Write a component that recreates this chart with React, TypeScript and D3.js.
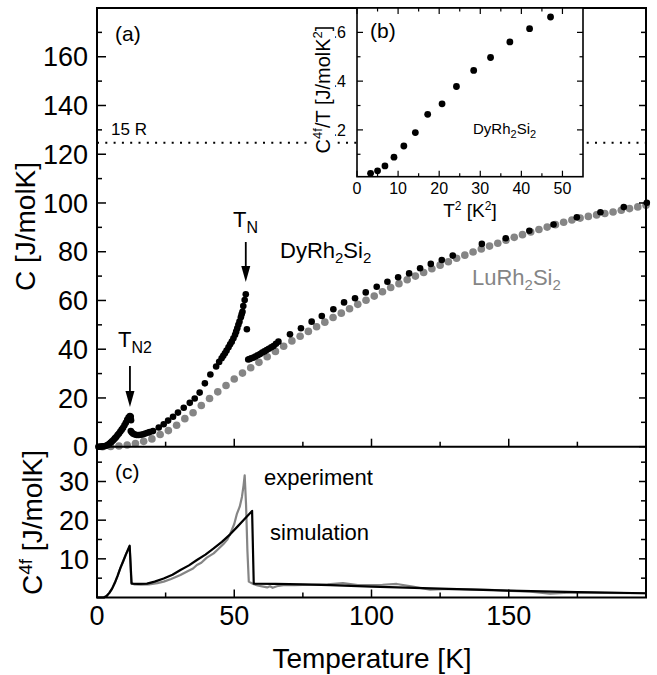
import React from "react";
import * as d3 from "d3";

// ---- Data ----
const dyT = [0.5,1.0,1.5,2.0,2.5,3.0,3.5,4.0,4.5,5.0,5.5,6.0,6.5,7.0,7.5,8.0,8.5,9.0,9.5,10.0,10.5,11.0,11.5,12.0,12.3,12.4,
  12.3,12.7,13.2,13.8,14.5,15.2,16.0,16.8,17.6,18.4,19.2,20.4,22.5,24.3,25.9,27.7,29.5,31.6,33.8,35.6,37.4,39.3,41.3,43.4,
  44.5,45.4,46.0,46.6,47.2,47.9,48.5,49.1,49.7,50.3,50.7,51.1,51.5,51.9,52.4,52.7,53.0,53.3,53.8,54.2,54.6,
  55.1,55.6,56.2,57.0,57.7,58.5,59.4,60.2,61.0,61.8,62.6,63.5,64.3,65.2,66.1,
  70.3,74.3,78.2,81.9,86.1,90.0,94.0,97.9,101.9,105.8,109.7,113.7,117.7,121.6,125.6,129.6,140.2,148.9,157.5,166.3,174.8,183.4,191.9,200.3];
const dyC = [0,0,0.1,0.1,0.2,0.3,0.5,0.8,1.2,1.7,2.2,2.7,3.4,4.0,4.8,5.4,6.2,7.0,7.8,8.8,9.8,11.0,12.0,12.6,12.3,10.9,
  6.4,5.8,5.3,5.0,4.8,4.8,4.9,5.1,5.4,5.7,6.0,6.4,7.9,9.2,10.7,12.3,14.0,16.0,18.0,19.8,22.2,26.0,29.6,32.9,
  34.8,36.3,37.3,38.3,39.5,40.8,42.0,43.1,44.5,45.9,47.2,48.6,50.0,51.3,53.1,54.3,55.4,57.7,60.2,62.5,48.2,
  35.8,36.0,36.3,36.6,37.0,37.5,38.0,38.6,39.1,39.7,40.2,40.8,41.3,42.2,43.1,
  46.1,48.6,51.3,53.6,56.4,59.2,60.9,63.3,65.6,67.7,69.5,71.1,73.2,75.0,76.6,78.4,83.2,85.5,88.6,91.2,94.1,96.2,98.3,100.1];

const luT = [2,5,8,11,14,17,20,23,26,29,32,35,38,41,44,47,50,53,56,59,62,65,68,71,74,77,80,83,86,89,92,95,98,101,104,107,110,113,116,119,122,125,128,131,134,137,140,143,146,149,152,155,158,161,164,167,170,173,176,179,182,185,188,191,194,197,200];
const luC = [0.0,0.1,0.3,0.7,1.3,2.2,3.2,5.0,6.6,8.8,11.5,13.9,16.9,19.8,22.5,25.1,27.8,30.2,32.4,34.6,36.9,39.1,41.2,43.4,45.3,47.3,49.2,51.1,53.0,54.8,56.6,58.4,60.1,61.8,63.6,65.3,66.9,68.5,70.0,71.5,73.0,74.5,75.9,77.3,78.6,79.9,81.1,82.3,83.5,84.7,85.9,87.0,88.1,89.1,90.1,91.1,92.1,93.0,93.8,94.5,95.1,95.7,96.3,97.0,97.7,98.4,99.1];

const insetT2 = [3.3,5.0,6.8,9.0,11.4,14.2,17.2,20.7,24.2,28.4,32.5,37.2,42.0,47.1];
const insetCT = [0.022,0.032,0.052,0.088,0.134,0.189,0.264,0.307,0.378,0.444,0.497,0.561,0.615,0.663];

const simT = [0,2.5,3.5,4.5,5.5,6.5,7.5,8.5,9.5,10.5,11.9,12.6,15,18.2,21,24.3,27.5,30.4,33.5,36.4,39.5,42.5,45.5,48.6,51,53.5,56.5,57.1,65,75,85,100,125,150,175,200];
const simC = [0,0,0.4,1.2,2.3,3.8,5.6,7.6,9.3,11.1,13.4,3.6,3.5,3.6,4.1,4.9,5.9,7.1,8.3,9.7,11.1,12.7,14.4,16.4,18.2,20.1,22.4,3.6,3.5,3.4,3.2,2.8,2.3,1.8,1.4,1.1];

const expT = [0,2.5,3.5,4.5,5.5,6.5,7.5,8.5,9.5,10.5,11.9,12.5,13.5,16,19,22,24.3,27,30.4,33,35,36.4,38,40,42.5,44,46,47.4,48.6,50,51,52,52.8,53.4,53.8,54.3,54.8,55.3,56.9,58.5,60.6,62,63,64,65.5,67.9,72,78,84,89.6,95,99.5,104,109.2,115,121.4,128,136,143,150.5,158,165,170,174.8,185,200];
const expC = [0,0,0.4,1.2,2.3,3.8,5.6,7.6,9.3,11.1,13.2,3.8,3.4,3.3,3.4,3.7,4.1,4.8,5.8,6.8,7.5,8.4,9.0,10.3,11.4,12.4,13.8,14.9,16.6,19,21.7,23.5,26,29,31.6,24,12,4.1,3.5,3.1,2.8,2.6,2.9,2.5,2.9,3.2,3.2,3.3,3.4,3.7,3.2,3.2,3.3,3.5,2.8,2.0,2.2,2.1,2.0,1.7,1.5,1.0,1.2,1.3,1.2,1.1];

const xTicksMajor = [0, 50, 100, 150];
const xTicksMinor = [25, 75, 125, 175];
const yaTicksMajor = [0, 20, 40, 60, 80, 100, 120, 140, 160];
const yaTicksMinor = [10, 30, 50, 70, 90, 110, 130, 150, 170];
const ycTicksMajor = [10, 20, 30];
const ycTicksMinor = [5, 15, 25, 35];
const inXMajor = [0, 10, 20, 30, 40, 50];
const inXMinor = [5, 15, 25, 35, 45];
const inYMajor = [0.2, 0.4, 0.6];
const inYMinor = [0.1, 0.3, 0.5];
const fifteenR = 124.7;

const FONT = "'Liberation Sans', Arial, Helvetica, sans-serif";
const GRAY = "#858585";

export default function App() {
  const L = 97, R = 646, TOP = 8, MID = 446.7, BOT = 597.5;
  const x = d3.scaleLinear().domain([0, 200]).range([L, R]);
  const ya = d3.scaleLinear().domain([0, 180]).range([MID, TOP]);
  const yc = d3.scaleLinear().domain([0, 39]).range([BOT, MID]);
  const IL = 357, IR = 583, IT = 8, IB = 176.7;
  const ix = d3.scaleLinear().domain([0, 55]).range([IL, IR]);
  const iy = d3.scaleLinear().domain([0.008, 0.70]).range([IB, IT]);

  const lineGen = (xs: number[], ys: number[]) =>
    d3.line<number>().x((_, i) => x(xs[i])).y((_, i) => yc(ys[i]))(xs) || "";

  const sw = 2;
  const majL = 9, minL = 5;

  return (
    <svg width={657} height={675} style={{ position: "absolute", left: 0, top: 0, background: "#fff" }} fontFamily={FONT}>
      <rect x={0} y={0} width={657} height={675} fill="#fff" />
      <defs>
        <clipPath id="insetTickClip"><rect x={335} y={0} width={30} height={200} /></clipPath>
      </defs>

      {/* 15 R dotted line */}
      <line x1={L} x2={R} y1={ya(fifteenR)} y2={ya(fifteenR)} stroke="#000" strokeWidth={2} strokeDasharray="2 6.3" />
      <text x={111} y={135} fontSize={17}>15 R</text>

      {/* panel (a) data */}
      {luT.map((t, i) => (
        <circle key={"lu" + i} cx={x(t)} cy={ya(luC[i])} r={3.8} fill={GRAY} />
      ))}
      {dyT.map((t, i) => (
        <circle key={"dy" + i} cx={x(t)} cy={ya(dyC[i])} r={3.3} fill="#000" />
      ))}

      {/* panel (c) lines */}
      <path d={lineGen(expT, expC)} fill="none" stroke={GRAY} strokeWidth={2.2} strokeLinejoin="round" />
      <path d={lineGen(simT, simC)} fill="none" stroke="#000" strokeWidth={2.2} strokeLinejoin="round" />

      {/* frames */}
      <rect x={L} y={TOP} width={R - L} height={BOT - TOP} fill="none" stroke="#000" strokeWidth={sw} />
      <line x1={L} x2={R} y1={MID} y2={MID} stroke="#000" strokeWidth={sw} />

      {/* panel (a) ticks */}
      {yaTicksMajor.map((v) => (
        <g key={"yam" + v}>
          <line x1={L} x2={L + majL} y1={ya(v)} y2={ya(v)} stroke="#000" strokeWidth={1.5} />
          <line x1={R} x2={R - 7} y1={ya(v)} y2={ya(v)} stroke="#000" strokeWidth={1.5} />
          <text x={88} y={ya(v)} dy="0.36em" fontSize={27} textAnchor="end">{v}</text>
        </g>
      ))}
      {yaTicksMinor.map((v) => (
        <g key={"yan" + v}>
          <line x1={L} x2={L + minL} y1={ya(v)} y2={ya(v)} stroke="#000" strokeWidth={1.5} />
          <line x1={R} x2={R - minL} y1={ya(v)} y2={ya(v)} stroke="#000" strokeWidth={1.5} />
        </g>
      ))}
      {xTicksMajor.map((v) => (
        <g key={"xam" + v}>
          <line x1={x(v)} x2={x(v)} y1={MID} y2={MID - 8} stroke="#000" strokeWidth={1.5} />
          <line x1={x(v)} x2={x(v)} y1={BOT} y2={BOT - 8} stroke="#000" strokeWidth={1.5} />
          <text x={x(v)} y={625} fontSize={27} textAnchor="middle">{v}</text>
        </g>
      ))}
      {xTicksMinor.map((v) => (
        <g key={"xan" + v}>
          <line x1={x(v)} x2={x(v)} y1={MID} y2={MID - minL} stroke="#000" strokeWidth={1.5} />
          <line x1={x(v)} x2={x(v)} y1={BOT} y2={BOT - minL} stroke="#000" strokeWidth={1.5} />
        </g>
      ))}

      {/* panel (c) ticks */}
      {ycTicksMajor.map((v) => (
        <g key={"ycm" + v}>
          <line x1={L} x2={L + majL} y1={yc(v)} y2={yc(v)} stroke="#000" strokeWidth={1.5} />
          <line x1={R} x2={R - 7} y1={yc(v)} y2={yc(v)} stroke="#000" strokeWidth={1.5} />
          <text x={89} y={yc(v)} dy="0.36em" fontSize={27} textAnchor="end">{v}</text>
        </g>
      ))}
      {ycTicksMinor.map((v) => (
        <g key={"ycn" + v}>
          <line x1={L} x2={L + minL} y1={yc(v)} y2={yc(v)} stroke="#000" strokeWidth={1.5} />
          <line x1={R} x2={R - minL} y1={yc(v)} y2={yc(v)} stroke="#000" strokeWidth={1.5} />
        </g>
      ))}

      {/* axis titles */}
      <text transform="translate(35,226.5) rotate(-90)" fontSize={28} textAnchor="middle">C [J/molK]</text>
      <text transform="translate(42,522.5) rotate(-90)" fontSize={28} textAnchor="middle">
        C<tspan fontSize={19} dy={-10}>4f</tspan><tspan dy={10}> [J/molK]</tspan>
      </text>
      <text x={372} y={668} fontSize={28} textAnchor="middle">Temperature [K]</text>

      {/* annotations */}
      <text x={115} y={41} fontSize={21}>(a)</text>
      <text x={115} y={479} fontSize={21}>(c)</text>

      <text x={233} y={227} fontSize={22}>T<tspan fontSize={16} dy={6}>N</tspan></text>
      <line x1={x(54.2)} x2={x(54.2)} y1={242} y2={268} stroke="#000" strokeWidth={1.8} />
      <path d={`M${x(54.2) - 4.5},${266} L${x(54.2) + 4.5},${266} L${x(54.2)},${282} Z`} fill="#000" />

      <text x={118} y={347} fontSize={22}>T<tspan fontSize={16} dy={6}>N2</tspan></text>
      <line x1={x(12)} x2={x(12)} y1={366} y2={393} stroke="#000" strokeWidth={1.8} />
      <path d={`M${x(12) - 4.5},${391} L${x(12) + 4.5},${391} L${x(12)},${407} Z`} fill="#000" />

      <text x={280} y={258} fontSize={22}>
        DyRh<tspan fontSize={15} dy={5}>2</tspan><tspan dy={-5}>Si</tspan><tspan fontSize={15} dy={5}>2</tspan>
      </text>
      <text x={472} y={285} fontSize={22} fill={GRAY}>
        LuRh<tspan fontSize={15} dy={5}>2</tspan><tspan dy={-5}>Si</tspan><tspan fontSize={15} dy={5}>2</tspan>
      </text>
      <text x={264} y={485} fontSize={22}>experiment</text>
      <text x={270} y={540} fontSize={22}>simulation</text>

      {/* inset (b) */}
      <rect x={IL} y={IT} width={IR - IL} height={IB - IT} fill="#fff" stroke="#000" strokeWidth={1.6} />
      {inXMajor.map((v) => (
        <g key={"ixm" + v}>
          <line x1={ix(v)} x2={ix(v)} y1={IB} y2={IB - 6} stroke="#000" strokeWidth={1.2} />
          <line x1={ix(v)} x2={ix(v)} y1={IT} y2={IT + 6} stroke="#000" strokeWidth={1.2} />
          <text x={ix(v)} y={194} fontSize={16} textAnchor="middle">{v}</text>
        </g>
      ))}
      {inXMinor.map((v) => (
        <g key={"ixn" + v}>
          <line x1={ix(v)} x2={ix(v)} y1={IB} y2={IB - 3.5} stroke="#000" strokeWidth={1.2} />
          <line x1={ix(v)} x2={ix(v)} y1={IT} y2={IT + 3.5} stroke="#000" strokeWidth={1.2} />
        </g>
      ))}
      {inYMajor.map((v) => (
        <g key={"iym" + v}>
          <line x1={IL} x2={IL + 6} y1={iy(v)} y2={iy(v)} stroke="#000" strokeWidth={1.2} />
          <line x1={IR} x2={IR - 6} y1={iy(v)} y2={iy(v)} stroke="#000" strokeWidth={1.2} />
          <text x={346} y={iy(v)} dy="0.36em" fontSize={16} textAnchor="end" clipPath="url(#insetTickClip)">{v.toFixed(1)}</text>
        </g>
      ))}
      {inYMinor.map((v) => (
        <g key={"iyn" + v}>
          <line x1={IL} x2={IL + 3.5} y1={iy(v)} y2={iy(v)} stroke="#000" strokeWidth={1.2} />
          <line x1={IR} x2={IR - 3.5} y1={iy(v)} y2={iy(v)} stroke="#000" strokeWidth={1.2} />
        </g>
      ))}
      {insetT2.map((t, i) => (
        <circle key={"in" + i} cx={ix(t)} cy={iy(insetCT[i])} r={3.4} fill="#000" />
      ))}
      <text x={370} y={38} fontSize={21}>(b)</text>
      <text x={473} y={134} fontSize={15}>
        DyRh<tspan fontSize={11} dy={4}>2</tspan><tspan dy={-4}>Si</tspan><tspan fontSize={11} dy={4}>2</tspan>
      </text>
      <text x={470} y={217} fontSize={19} textAnchor="middle">
        T<tspan fontSize={12} dy={-7}>2</tspan><tspan dy={7}> [K</tspan><tspan fontSize={12} dy={-7}>2</tspan><tspan dy={7}>]</tspan>
      </text>
      <rect x={309} y={12} width={26} height={160} fill="#fff" />
      <text transform="translate(330,89.5) rotate(-90)" fontSize={20} textAnchor="middle">
        C<tspan fontSize={13} dy={-8}>4f</tspan><tspan dy={8}>/T [J/molK</tspan><tspan fontSize={13} dy={-8}>2</tspan><tspan dy={8}>]</tspan>
      </text>
    </svg>
  );
}
